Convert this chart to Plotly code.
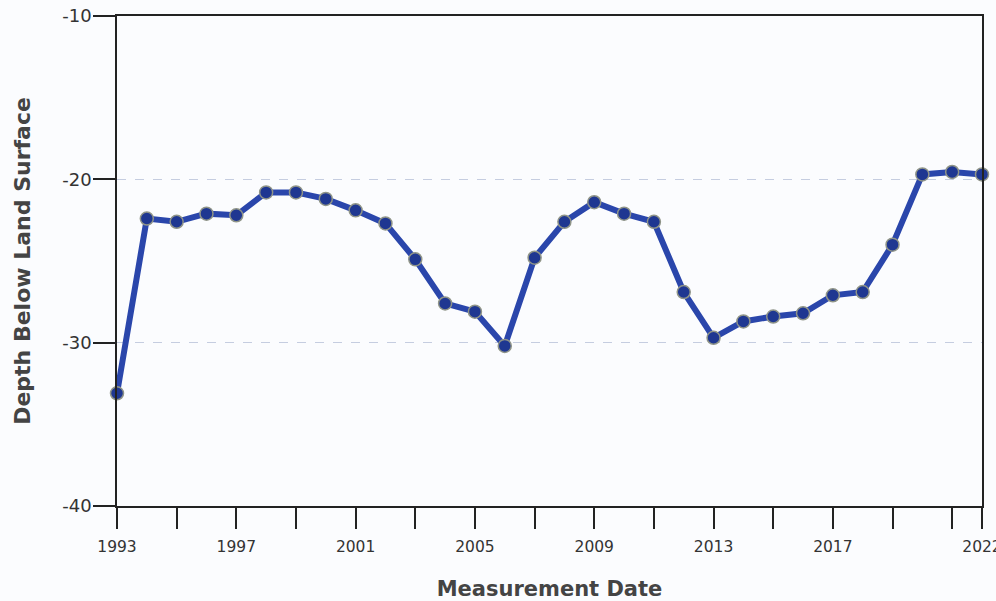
import plotly.graph_objects as go

years = list(range(1993, 2023))
depth = [-33.1, -22.4, -22.6, -22.1, -22.2, -20.8, -20.8, -21.2, -21.9, -22.7,
         -24.9, -27.6, -28.1, -30.2, -24.8, -22.6, -21.4, -22.1, -22.6, -26.9,
         -29.7, -28.7, -28.4, -28.2, -27.1, -26.9, -24.0, -19.7, -19.55, -19.7]

x_tickvals = list(range(1993, 2022, 2)) + [2022]
x_ticktext = [str(v) if (v - 1993) % 4 == 0 and v <= 2017 else "" for v in x_tickvals[:-1]] + ["2022"]
y_tickvals = [-10, -20, -30, -40]
y_ticktext = ["-10", "-20", "-30", "-40"]

fig = go.Figure()
fig.add_trace(go.Scatter(
    x=years, y=depth, mode="lines+markers",
    line=dict(color="#2a46ab", width=6),
    marker=dict(size=13, color="#1f3791", line=dict(color="#8f9488", width=1.5)),
    cliponaxis=False, showlegend=False,
))

axis_font = dict(family="DejaVu Sans", size=15.5, color="#333333")
title_font_x = dict(family="DejaVu Sans", size=21, color="#444444")
title_font_y = dict(family="DejaVu Sans", size=22, color="#444444")

fig.update_layout(
    width=996, height=601,
    margin=dict(l=117, r=14, t=16, b=95),
    paper_bgcolor="#fbfcfe", plot_bgcolor="#fbfcfe",
    xaxis=dict(
        range=[1993, 2022], tickvals=x_tickvals, ticktext=x_ticktext,
        ticks="outside", ticklen=21, tickwidth=1.5, tickcolor="#222222",
        showline=True, linecolor="#222222", linewidth=1.5, mirror=True,
        showgrid=False, zeroline=False, tickfont=axis_font,
        automargin=False, ticklabeloverflow="allow", ticklabelstandoff=5,
        title=dict(text="<b>Measurement Date</b>", font=title_font_x, standoff=27),
    ),
    yaxis=dict(
        range=[-40, -10], tickvals=y_tickvals, ticktext=y_ticktext,
        ticks="outside", ticklen=22, tickwidth=1.5, tickcolor="#222222",
        showline=True, linecolor="#222222", linewidth=1.5, mirror=True,
        showgrid=True, gridcolor="#c5cde0", gridwidth=1, griddash="dash",
        zeroline=False, tickfont=dict(family="DejaVu Sans", size=18, color="#333333"),
        automargin=False, ticklabeloverflow="allow", ticklabelstandoff=-2,
        title=dict(text="<b>Depth Below Land Surface</b>", font=title_font_y, standoff=26),
    ),
)

fig.write_html(
    "out.html",
    config={"displayModeBar": False},
    post_script="document.body.style.margin='0';document.body.style.overflow='hidden';",
)
